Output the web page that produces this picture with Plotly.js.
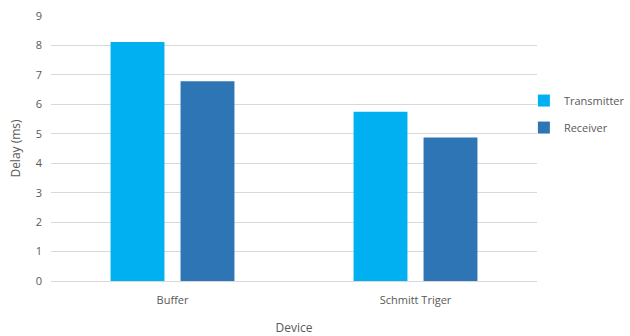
<!DOCTYPE html>
<html>
<head>
<meta charset="utf-8">
<script src="https://cdn.plot.ly/plotly-3.0.1.min.js"></script>
<style>
  html, body { margin: 0; padding: 0; background: #ffffff; }
  #chart { width: 630px; height: 336px; }
</style>
</head>
<body>
<div id="chart"></div>
<script>
// Device categories and measured delays (ms)
const devices = ["Buffer", "Schmitt Triger"];
const transmitterDelay = [8.12, 5.75];
const receiverDelay = [6.78, 4.87];
const yTicks = [0, 1, 2, 3, 4, 5, 6, 7, 8, 9];

const textColor = "#595959";
const fontFamily = "'Open Sans', 'Noto Sans', sans-serif";

const traces = [
  {
    type: "bar",
    name: "Transmitter",
    legendgroup: "tx",
    x: devices,
    y: transmitterDelay,
    marker: { color: "#00B0F0" },
    hoverinfo: "y"
  },
  {
    type: "bar",
    name: "Receiver",
    legendgroup: "rx",
    x: devices,
    y: receiverDelay,
    marker: { color: "#2E75B6" },
    hoverinfo: "y"
  }
];

const layout = {
  width: 630,
  height: 336,
  margin: { l: 51, r: 93, t: 16, b: 55, autoexpand: false },
  paper_bgcolor: "#ffffff",
  plot_bgcolor: "#ffffff",
  font: { family: fontFamily, size: 11, color: textColor },
  barmode: "group",
  bargap: 0.424,
  bargroupgap: 0.23,
  xaxis: {
    title: { text: "Device", font: { size: 12, color: textColor }, standoff: 22 },
    showgrid: false,
    showline: true,
    linecolor: "#D9D9D9",
    linewidth: 1,
    ticks: "",
    ticklabelstandoff: 9,
    tickfont: { size: 11, color: textColor }
  },
  yaxis: {
    title: { text: "Delay (ms)", font: { size: 12, color: textColor }, standoff: 12 },
    range: [0, 9],
    tickvals: yTicks,
    showgrid: true,
    gridcolor: "#D9D9D9",
    gridwidth: 1,
    zeroline: false,
    showline: false,
    ticks: "",
    ticklabelstandoff: 8,
    tickfont: { size: 11, color: textColor }
  },
  legend: {
    x: 0.973,
    xanchor: "left",
    y: 0.63,
    yanchor: "middle",
    font: { size: 11, color: textColor },
    itemwidth: 30,
    tracegroupgap: 8,
    bgcolor: "rgba(0,0,0,0)"
  },
  showlegend: true
};

Plotly.newPlot("chart", traces, layout, { displayModeBar: false, staticPlot: true });
</script>
</body>
</html>
